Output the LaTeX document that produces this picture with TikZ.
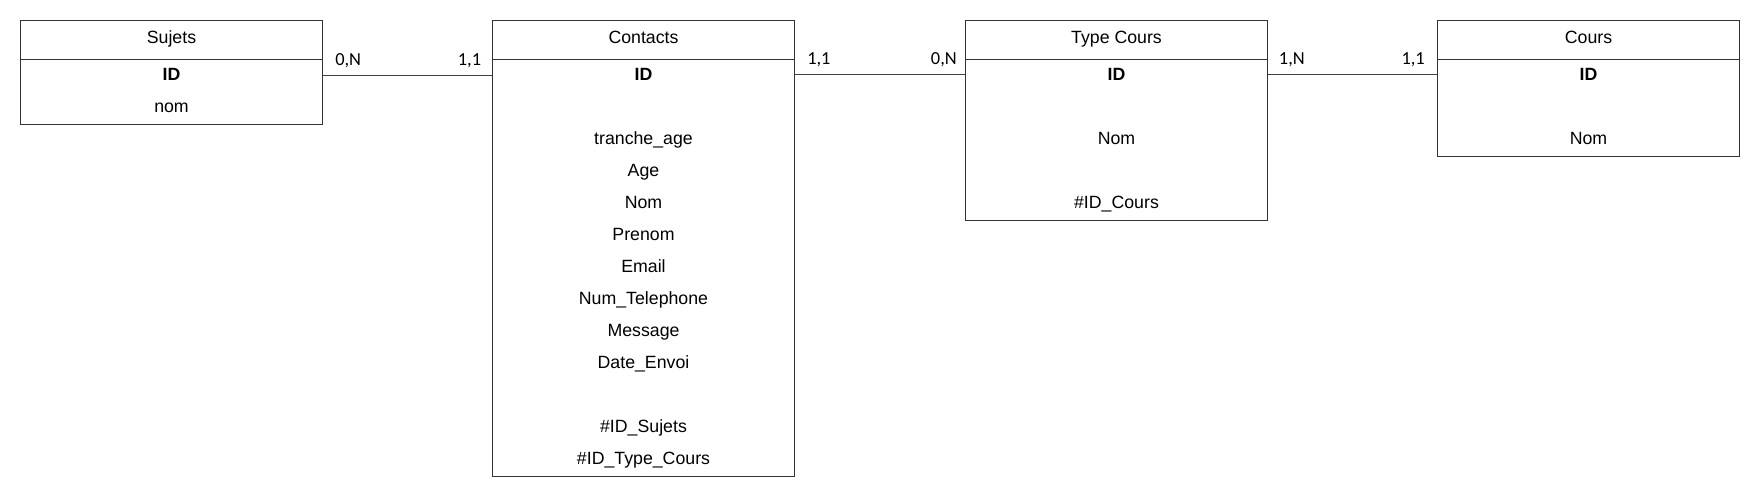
\documentclass[tikz,border=0pt]{standalone}
\usepackage{fontspec}
\setmainfont{Liberation Sans}
\newfontfamily\cardfont{Carlito}
\usetikzlibrary{positioning,calc}

\tikzset{
  entity/.style={draw=black!80,line width=0.75pt,anchor=north west,
    minimum width=226.5pt,inner sep=0pt},
  title/.style={font=\fontsize{13.3}{15}\selectfont,inner sep=0pt,anchor=base},
  attr/.style={font=\fontsize{13.3}{15}\selectfont,inner sep=0pt,anchor=base},
  link/.style={draw=black!75,line width=0.75pt},
  card/.style={font=\cardfont\fontsize{13.8}{15}\selectfont,inner sep=0pt},
}

\begin{document}
\begin{tikzpicture}[x=0.75pt,y=-0.75pt]
\useasboundingbox (0,0) rectangle (1760,495);

% tables
\node[entity,minimum height=78pt] (sujets) at (20,20) {};
\node[entity,minimum height=342pt] (contacts) at (492,20) {};
\node[entity,minimum height=150pt] (typecours) at (965,20) {};
\node[entity,minimum height=102pt] (cours) at (1437,20) {};

\foreach \t/\n in {sujets/Sujets,contacts/Contacts,typecours/Type Cours,cours/Cours}{
  \draw[draw=black!80,line width=0.75pt] ([yshift=-30pt]\t.north west) -- ([yshift=-30pt]\t.north east);
  \node[title] at ([yshift=-18pt]\t.north) {\n};
}

% attributes
\foreach \a [count=\i] in {\textbf{ID},nom}
  \node[attr] at ([yshift={-(21.25+24*\i)*1pt}]sujets.north) {\a};
\foreach \a [count=\i] in {\textbf{ID},{},tranche\_age,Age,Nom,Prenom,Email,
    Num\_Telephone,Message,Date\_Envoi,{},\#ID\_Sujets,\#ID\_Type\_Cours}
  \node[attr] at ([yshift={-(21.25+24*\i)*1pt}]contacts.north) {\a};
\foreach \a [count=\i] in {\textbf{ID},{},Nom,{},\#ID\_Cours}
  \node[attr] at ([yshift={-(21.25+24*\i)*1pt}]typecours.north) {\a};
\foreach \a [count=\i] in {\textbf{ID},{},Nom}
  \node[attr] at ([yshift={-(21.25+24*\i)*1pt}]cours.north) {\a};

% links
\draw[link] ([yshift=-42pt]sujets.north east) coordinate (l1a)
  -- ([yshift=-42pt]contacts.north west) coordinate (l1b);
\draw[link] ([yshift=-41.25pt]contacts.north east) coordinate (l2a)
  -- ([yshift=-41.25pt]typecours.north west) coordinate (l2b);
\draw[link] ([yshift=-41.25pt]typecours.north east) coordinate (l3a)
  -- ([yshift=-41.25pt]cours.north west) coordinate (l3b);

\node[card,anchor=base west] at ([xshift=9pt,yshift=8pt]l1a) {0,N};
\node[card,anchor=base east] at ([xshift=-8pt,yshift=8pt]l1b) {1,1};
\node[card,anchor=base west] at ([xshift=9pt,yshift=8pt]l2a) {1,1};
\node[card,anchor=base east] at ([xshift=-6pt,yshift=8pt]l2b) {0,N};
\node[card,anchor=base west] at ([xshift=8pt,yshift=8pt]l3a) {1,N};
\node[card,anchor=base east] at ([xshift=-9pt,yshift=8pt]l3b) {1,1};
\end{tikzpicture}
\end{document}
